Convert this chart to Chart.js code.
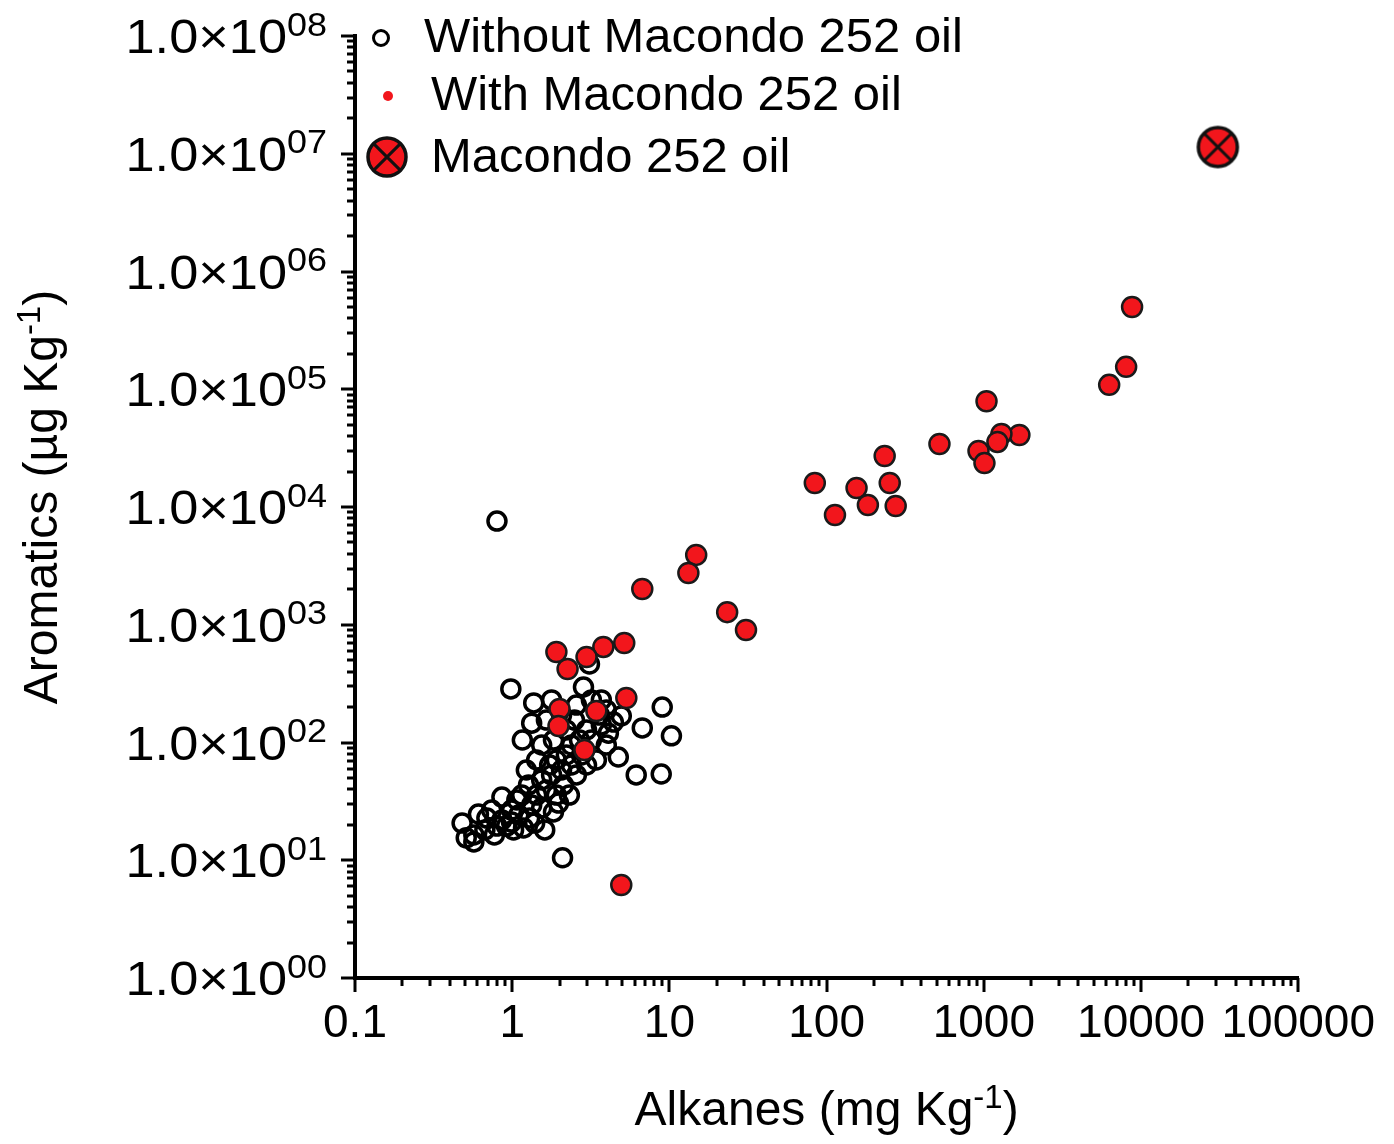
<!DOCTYPE html>
<html>
<head>
<meta charset="utf-8">
<script src="https://cdn.jsdelivr.net/npm/chart.js@4.4.1/dist/chart.umd.min.js"></script>
<style>
  html, body { margin: 0; padding: 0; background: #fff; }
  canvas { display: block; }
</style>
</head>
<body>
<canvas id="scatterChart" width="1394" height="1144"></canvas>
<script>
// samples without Macondo 252 oil (alkanes mg/kg, aromatics ug/kg)
const withoutAlkanes = [
  0.80, 0.98, 2.09, 0.48, 0.57, 0.57, 0.77, 1.61, 0.61, 0.86,
  1.10, 1.16, 1.33, 1.37, 2.84, 3.10, 4.94, 6.72, 10.3, 9.0,
  4.09, 4.73, 6.15, 8.87, 3.97, 4.40, 0.69, 0.74, 0.86, 0.92,
  0.99, 1.07, 1.18, 1.29, 1.33, 1.43, 1.27, 1.54, 1.65, 1.78,
  1.91, 1.73, 1.91, 2.06, 2.12, 2.21, 2.38, 2.56, 2.38, 2.68,
  2.76, 2.97, 3.19, 3.43, 2.49, 2.21, 1.83, 1.65, 1.54, 2.06,
  2.56, 3.19, 3.59, 3.69, 1.78, 1.43, 1.15, 0.80, 0.51, 0.67,
  1.02, 1.39, 1.97, 2.31, 2.97, 0.99, 1.54, 1.83, 3.69, 3.97, 1.23
];
const withoutAromatics = [
  7600, 285, 10.5, 20.7, 14.3, 16.4, 16.4, 18.1, 24.7, 34.4,
  24.2, 105, 146, 217, 296, 464, 168, 133, 114, 200,
  120, 75.3, 53.0, 54.0, 95.2, 149, 22.8, 26.7, 22.0, 19.5,
  26.7, 32.5, 18.8, 22.8, 29.5, 35.8, 43.6, 48.1, 39.5, 53.0,
  35.8, 64.4, 71.0, 58.4, 43.6, 78.3, 64.4, 53.0, 95.2, 105,
  78.3, 128, 105, 71.0, 155, 128, 105, 155, 95.2, 171,
  208, 230, 171, 141, 230, 71.0, 35.8, 19.5, 15.5, 18.1,
  18.1, 20.7, 30.6, 35.8, 64.4, 21.1, 27.8, 25.7, 230, 189, 58.4
];

// samples with Macondo 252 oil
const withAlkanes = [
  8770, 8040, 6270, 1040, 522, 1683, 1294, 1220, 925, 1009,
  234, 84.1, 155, 252, 113, 183, 275, 14.8, 13.2, 6.72,
  23.3, 30.7, 5.16, 3.80, 2.97, 2.25, 1.91, 5.32, 2.00, 3.43,
  1.97, 2.88, 4.94
];
const withAromatics = [
  500000, 155000, 109000, 79000, 34300, 40900, 41700, 35700, 29900, 23600,
  27100, 16000, 14500, 16000, 8550, 10400, 10200, 3920, 2750, 2010,
  1280, 903, 700, 648, 532, 421, 587, 239, 193, 185,
  138, 86.3, 6.17
];

// the oil itself
const oilAlkanes = [30800];
const oilAromatics = [11400000];

const xTickValues = [0.1, 1, 10, 100, 1000, 10000, 100000];
const yTickExponents = [0, 1, 2, 3, 4, 5, 6, 7, 8];

const FONT = '"Liberation Sans", Arial, Helvetica, sans-serif';
const RED = 'rgb(242, 22, 28)';

function toPoints(xs, ys) {
  return xs.map((x, i) => ({ x: x, y: ys[i] }));
}

// red disc with a cross, for the oil sample
function oilMarker(r) {
  const c = document.createElement('canvas');
  const s = Math.ceil(r * 2 + 8);
  c.width = s; c.height = s;
  const g = c.getContext('2d');
  const m = s / 2;
  g.beginPath();
  g.arc(m, m, r, 0, Math.PI * 2);
  g.fillStyle = RED;
  g.fill();
  g.lineWidth = 3.5;
  g.strokeStyle = '#111';
  g.stroke();
  const d = r * Math.SQRT1_2;
  g.beginPath();
  g.moveTo(m - d, m - d); g.lineTo(m + d, m + d);
  g.moveTo(m + d, m - d); g.lineTo(m - d, m + d);
  g.lineWidth = 3;
  g.stroke();
  return c;
}
const bigMarker = oilMarker(19.5);
const legendMarker = oilMarker(19);

// text with a superscript part: parts = [[text, isSup], ...]
function drawSupText(ctx, parts, x, y, size, align, stretch) {
  const sx = stretch || 1;
  const supSize = Math.round(size * 0.68);
  let total = 0;
  const widths = parts.map(p => {
    ctx.font = (p[1] ? supSize : size) + 'px ' + FONT;
    const w = ctx.measureText(p[0]).width * sx;
    total += w;
    return w;
  });
  let cx = align === 'center' ? x - total / 2 : (align === 'right' ? x - total : x);
  ctx.textAlign = 'left';
  ctx.textBaseline = 'alphabetic';
  parts.forEach((p, i) => {
    ctx.font = (p[1] ? supSize : size) + 'px ' + FONT;
    ctx.save();
    ctx.translate(cx, p[1] ? y - size * 0.36 : y);
    ctx.scale(sx, 1);
    ctx.fillText(p[0], 0, 0);
    ctx.restore();
    cx += widths[i];
  });
}

const decorPlugin = {
  id: 'decor',
  afterDraw(chart) {
    const ctx = chart.ctx;
    const xs = chart.scales.x;
    const ys = chart.scales.y;
    const area = chart.chartArea;
    ctx.save();
    ctx.strokeStyle = '#000';
    ctx.fillStyle = '#000';
    ctx.lineWidth = 3;

    // minor + major ticks on x
    for (let k = -1; k <= 5; k++) {
      for (let m = 1; m <= 9; m++) {
        if (k === 5 && m > 1) break;
        const px = Math.round(xs.getPixelForValue(m * Math.pow(10, k)));
        const len = m === 1 ? 14 : 8;
        ctx.beginPath();
        ctx.moveTo(px, area.bottom);
        ctx.lineTo(px, area.bottom + len);
        ctx.stroke();
      }
    }
    // minor + major ticks on y
    for (let k = 0; k <= 8; k++) {
      for (let m = 1; m <= 9; m++) {
        if (k === 8 && m > 1) break;
        const py = Math.round(ys.getPixelForValue(m * Math.pow(10, k)));
        const len = m === 1 ? 14 : 8;
        ctx.beginPath();
        ctx.moveTo(area.left, py);
        ctx.lineTo(area.left - len, py);
        ctx.stroke();
      }
    }

    // y tick labels 1.0x10^0n
    yTickExponents.forEach(e => {
      const py = ys.getPixelForValue(Math.pow(10, e));
      const sup = (e < 10 ? '0' : '') + e;
      drawSupText(ctx, [['1.0\u00d710', false], [sup, true]], 327, py + 17, 48, 'right', 1.09);
    });

    // axis titles
    drawSupText(ctx, [['Alkanes (mg Kg', false], ['-1', true], [')', false]],
      (area.left + area.right) / 2, 1125, 48, 'center');
    ctx.save();
    ctx.translate(57, (area.top + area.bottom) / 2 - 10);
    ctx.rotate(-Math.PI / 2);
    drawSupText(ctx, [['Aromatics (\u00b5g Kg', false], ['-1', true], [')', false]], 0, 0, 48, 'center');
    ctx.restore();

    // legend
    ctx.beginPath();
    ctx.arc(381, 38, 7.5, 0, Math.PI * 2);
    ctx.lineWidth = 3;
    ctx.stroke();
    ctx.beginPath();
    ctx.arc(388, 96, 5, 0, Math.PI * 2);
    ctx.fillStyle = RED;
    ctx.fill();
    ctx.drawImage(legendMarker, 387 - legendMarker.width / 2, 157 - legendMarker.height / 2);
    ctx.fillStyle = '#000';
    drawSupText(ctx, [['Without Macondo 252 oil', false]], 424, 52, 48, 'left', 1.02);
    drawSupText(ctx, [['With Macondo 252 oil', false]], 431, 110, 48, 'left', 1.02);
    drawSupText(ctx, [['Macondo 252 oil', false]], 431, 172, 48, 'left', 1.02);
    ctx.restore();
  }
};

const ctx = document.getElementById('scatterChart').getContext('2d');
const scatterChart = new Chart(ctx, {
  type: 'scatter',
  data: {
    datasets: [
      {
        label: 'Macondo 252 oil',
        data: toPoints(oilAlkanes, oilAromatics),
        pointStyle: bigMarker,
        order: 0
      },
      {
        label: 'With Macondo 252 oil',
        data: toPoints(withAlkanes, withAromatics),
        backgroundColor: RED,
        borderColor: '#1a1a1a',
        borderWidth: 2.5,
        pointRadius: 10,
        order: 1
      },
      {
        label: 'Without Macondo 252 oil',
        data: toPoints(withoutAlkanes, withoutAromatics),
        backgroundColor: 'rgba(255,255,255,0)',
        borderColor: '#000',
        borderWidth: 3.5,
        pointRadius: 9,
        order: 2
      }
    ]
  },
  options: {
    responsive: false,
    animation: false,
    devicePixelRatio: 1,
    events: [],
    layout: { padding: { top: 36, right: 84, left: 0, bottom: 0 } },
    plugins: {
      legend: { display: false },
      tooltip: { enabled: false }
    },
    scales: {
      x: {
        type: 'logarithmic',
        position: 'bottom',
        min: 0.1,
        max: 100000,
        afterBuildTicks: s => { s.ticks = xTickValues.map(v => ({ value: v })); },
        afterFit: s => { s.height = 166; },
        grid: { display: false, drawTicks: false },
        border: { display: true, width: 4, color: '#000' },
        ticks: {
          autoSkip: false,
          maxRotation: 0,
          padding: 19,
          color: '#000',
          font: { family: FONT, size: 46 },
          callback: v => String(v)
        }
      },
      y: {
        type: 'logarithmic',
        position: 'left',
        min: 1,
        max: 100000000,
        afterBuildTicks: s => { s.ticks = yTickExponents.map(e => ({ value: Math.pow(10, e) })); },
        afterFit: s => { s.width = 355; },
        grid: { display: false, drawTicks: false },
        border: { display: true, width: 4, color: '#000' },
        ticks: { display: false }
      }
    }
  },
  plugins: [decorPlugin]
});
</script>
</body>
</html>
